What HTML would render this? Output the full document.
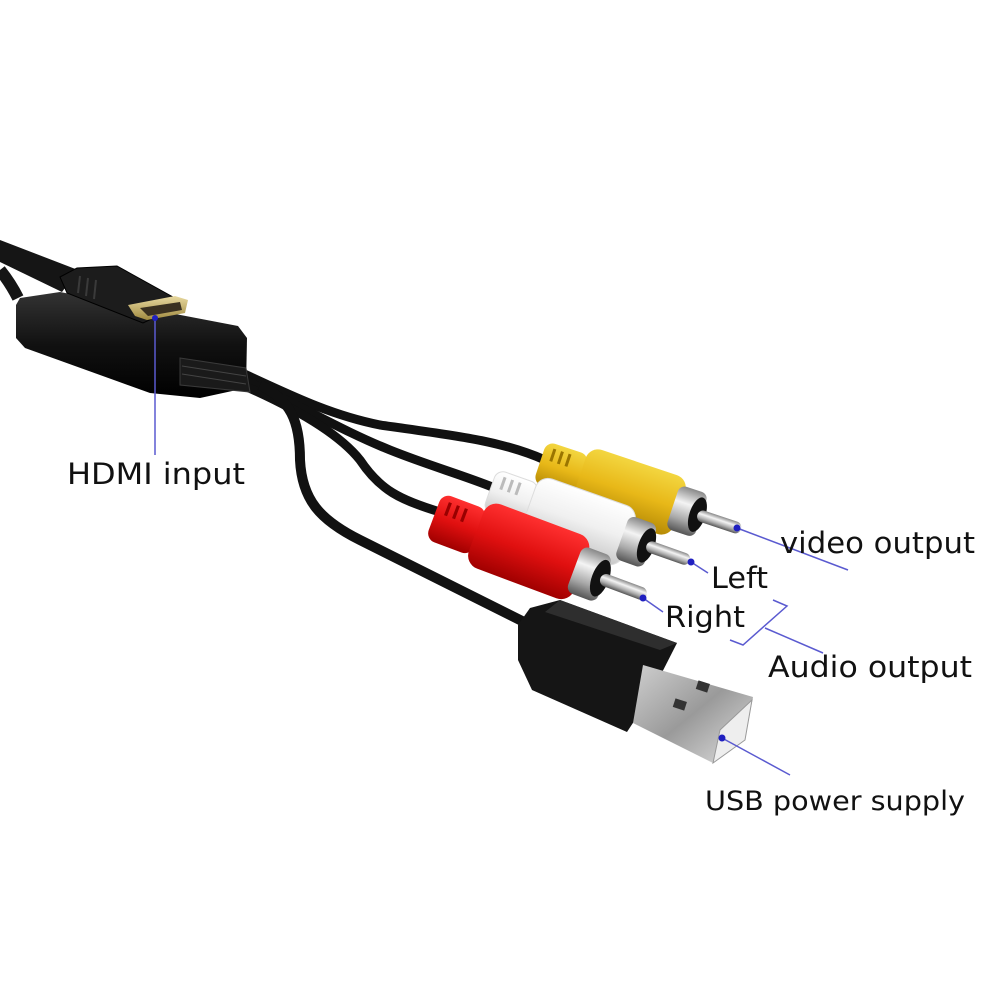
<!DOCTYPE html>
<html><head><style>
html,body{margin:0;padding:0;background:#fff;}
svg{display:block;}
text{font-family:"DejaVu Sans","Liberation Sans",sans-serif;fill:#111;}
</style></head><body>
<svg width="1000" height="1000" viewBox="0 0 1000 1000">
<defs>
<linearGradient id="blk" x1="0" y1="0" x2="0" y2="1"><stop offset="0" stop-color="#333"/><stop offset="0.5" stop-color="#111"/><stop offset="1" stop-color="#000"/></linearGradient>
<linearGradient id="met" x1="0" y1="0" x2="0" y2="1"><stop offset="0" stop-color="#888"/><stop offset="0.35" stop-color="#f4f4f4"/><stop offset="0.7" stop-color="#aaa"/><stop offset="1" stop-color="#555"/></linearGradient>
<linearGradient id="ylw" x1="0" y1="0" x2="0" y2="1"><stop offset="0" stop-color="#f3d640"/><stop offset="0.5" stop-color="#e8b818"/><stop offset="1" stop-color="#b58a05"/></linearGradient>
<linearGradient id="wht" x1="0" y1="0" x2="0" y2="1"><stop offset="0" stop-color="#fff"/><stop offset="0.5" stop-color="#f0f0f0"/><stop offset="1" stop-color="#c8c8c8"/></linearGradient>
<linearGradient id="red" x1="0" y1="0" x2="0" y2="1"><stop offset="0" stop-color="#ff3030"/><stop offset="0.5" stop-color="#e01010"/><stop offset="1" stop-color="#a00000"/></linearGradient>
<linearGradient id="gold" x1="0" y1="0" x2="0" y2="1"><stop offset="0" stop-color="#e8d9a0"/><stop offset="1" stop-color="#a08a40"/></linearGradient>
<linearGradient id="usbm" x1="0" y1="0" x2="1" y2="1"><stop offset="0" stop-color="#cfcfcf"/><stop offset="0.5" stop-color="#9a9a9a"/><stop offset="1" stop-color="#e0e0e0"/></linearGradient>
<g id="plugbase">
 <rect x="140" y="-23" width="30" height="46" rx="7" fill="url(#met)"/>
 <ellipse cx="166" cy="0" rx="8" ry="18" fill="#111"/>
 <rect x="166" y="-6" width="46" height="12" rx="6" fill="url(#met)"/>
</g>
</defs>

<!-- flat cables top-left -->
<polygon points="0,240 78,270 62,292 0,262" fill="#151515"/>
<path d="M0,270 C8,280 14,290 18,298" stroke="#151515" stroke-width="12" fill="none"/>

<!-- cables to plugs -->
<path d="M240,372 C290,395 330,415 380,425 C450,435 500,440 545,460" stroke="#111" stroke-width="9" fill="none"/>
<path d="M240,378 C300,405 340,430 390,450 C430,466 460,474 495,488" stroke="#111" stroke-width="9" fill="none"/>
<path d="M240,384 C300,410 340,435 360,460 C380,490 400,500 440,512" stroke="#111" stroke-width="9" fill="none"/>
<path d="M260,385 C290,400 300,420 300,460 C302,500 320,520 360,540 C420,570 480,600 530,625" stroke="#111" stroke-width="10" fill="none"/>

<!-- converter box -->
<polygon points="20,298 60,292 238,326 247,338 246,388 200,398 150,393 25,348 16,338 16,305" fill="url(#blk)"/>
<polygon points="180,358 246,368 250,392 180,385" fill="#1a1a1a" stroke="#3a3a3a" stroke-width="1"/>
<line x1="182" y1="366" x2="246" y2="376" stroke="#444"/>
<line x1="182" y1="374" x2="246" y2="384" stroke="#444"/>

<!-- HDMI plug (on top of box) -->
<polygon points="60,277 77,268 117,266 173,297 160,315 143,323 67,293" fill="#1c1c1c" stroke="#000" stroke-width="1"/>
<g stroke="#3a3a3a" stroke-width="2"><line x1="80" y1="276" x2="78" y2="293"/><line x1="88" y1="278" x2="86" y2="296"/><line x1="96" y1="280" x2="94" y2="299"/></g>
<polygon points="128,305 175,296 188,300 185,313 147,320 135,316" fill="url(#gold)"/>
<polygon points="140,308 180,302 182,310 148,316" fill="#3a3020"/>

<!-- RCA plugs (back to front) -->
<g transform="translate(540,462) rotate(18.5)">
 <rect x="0" y="-22" width="45" height="44" rx="9" fill="url(#ylw)"/>
 <g stroke="#9a7500" stroke-width="3"><line x1="10" y1="-17" x2="10" y2="-4"/><line x1="18" y1="-17" x2="18" y2="-4"/><line x1="26" y1="-17" x2="26" y2="-4"/></g>
 <rect x="42" y="-31" width="105" height="62" rx="13" fill="url(#ylw)"/>
 <use href="#plugbase"/>
</g>
<g transform="translate(490,490) rotate(19.5)">
 <rect x="0" y="-22" width="45" height="44" rx="9" fill="url(#wht)" stroke="#ddd"/>
 <g stroke="#bbb" stroke-width="3"><line x1="10" y1="-17" x2="10" y2="-4"/><line x1="18" y1="-17" x2="18" y2="-4"/><line x1="26" y1="-17" x2="26" y2="-4"/></g>
 <rect x="42" y="-31" width="105" height="62" rx="13" fill="url(#wht)" stroke="#ddd"/>
 <use href="#plugbase"/>
</g>
<g transform="translate(434,516) rotate(20.5) scale(1.07)">
 <rect x="0" y="-23" width="45" height="46" rx="9" fill="url(#red)"/>
 <g stroke="#900" stroke-width="3"><line x1="10" y1="-17" x2="10" y2="-4"/><line x1="18" y1="-17" x2="18" y2="-4"/><line x1="26" y1="-17" x2="26" y2="-4"/></g>
 <rect x="42" y="-32" width="105" height="64" rx="13" fill="url(#red)"/>
 <use href="#plugbase"/>
</g>

<!-- USB plug -->
<polygon points="518,625 530,608 560,600 677,643 648,700 627,732 532,690 518,660" fill="#151515"/>
<polygon points="560,600 677,643 660,650 545,612" fill="#2e2e2e"/>
<polygon points="643,665 753,697 745,740 713,763 633,723" fill="url(#usbm)"/>
<polygon points="720,730 752,700 745,740 713,763" fill="#eee" stroke="#999"/>
<rect x="697" y="682" width="12" height="9" fill="#333" transform="rotate(18 703 686)"/>
<rect x="674" y="700" width="12" height="9" fill="#333" transform="rotate(18 680 704)"/>

<!-- leader lines -->
<g stroke="#5a5ad0" stroke-width="1.5" fill="none">
 <line x1="155" y1="318" x2="155" y2="455"/>
 <line x1="737" y1="528" x2="848" y2="570"/>
 <line x1="691" y1="562" x2="708" y2="573"/>
 <line x1="643" y1="598" x2="663" y2="612"/>
 <polyline points="773,600 787,606 743,645 730,640"/>
 <line x1="765" y1="628" x2="823" y2="653"/>
 <line x1="722" y1="738" x2="790" y2="775"/>
</g>
<g fill="#2020c0">
 <circle cx="155" cy="318" r="3"/><circle cx="737" cy="528" r="3.5"/><circle cx="691" cy="562" r="3.5"/><circle cx="643" cy="598" r="3.5"/><circle cx="722" cy="738" r="3.5"/>
</g>

<!-- labels -->
<text x="67" y="484" font-size="29" textLength="178" lengthAdjust="spacingAndGlyphs">HDMI input</text>
<text x="780" y="553" font-size="29" textLength="195" lengthAdjust="spacingAndGlyphs">video output</text>
<text x="711" y="588" font-size="29" textLength="57" lengthAdjust="spacingAndGlyphs">Left</text>
<text x="665" y="627" font-size="29" textLength="80" lengthAdjust="spacingAndGlyphs">Right</text>
<text x="768" y="677" font-size="29" textLength="204" lengthAdjust="spacingAndGlyphs">Audio output</text>
<text x="705" y="810" font-size="27" textLength="260" lengthAdjust="spacingAndGlyphs">USB power supply</text>
</svg>
</body></html>
